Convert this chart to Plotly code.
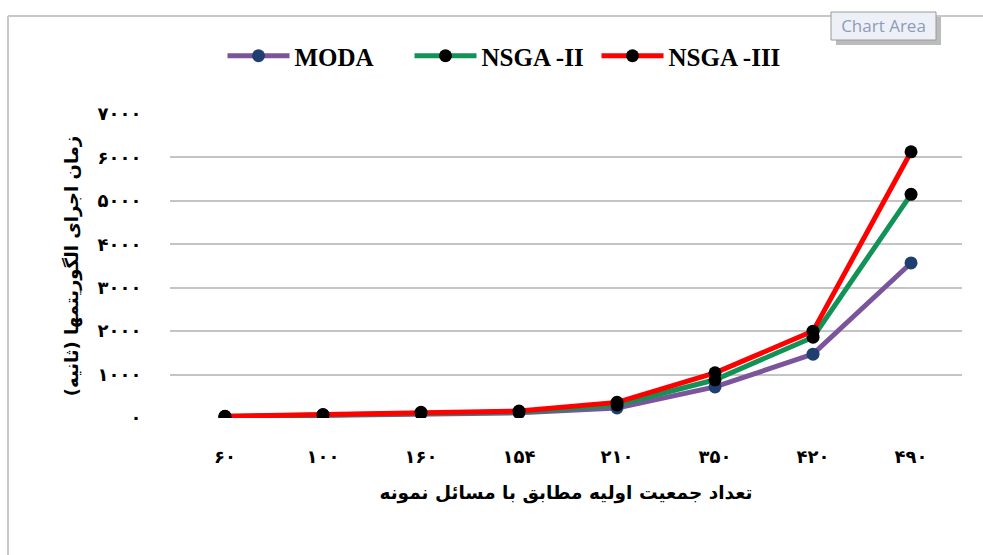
import plotly.graph_objects as go

categories = ["۶۰", "۱۰۰", "۱۶۰", "۱۵۴", "۲۱۰", "۳۵۰", "۴۲۰", "۴۹۰"]
moda = [30, 60, 100, 120, 230, 715, 1470, 3570]
nsga2 = [35, 70, 115, 140, 300, 880, 1860, 5150]
nsga3 = [40, 80, 130, 160, 360, 1040, 2000, 6130]
y_ticks = [0, 1000, 2000, 3000, 4000, 5000, 6000, 7000]
y_ticktext = ["۰", "۱۰۰۰", "۲۰۰۰", "۳۰۰۰", "۴۰۰۰", "۵۰۰۰", "۶۰۰۰", "۷۰۰۰"]

x = list(range(len(categories)))

W, H = 983, 555
L, R, T, B = 170, 21, 114, 137
pw, ph = W - L - R, H - T - B

def px(xp):
    return (xp - L) / pw

def py(yp):
    return (H - B - yp) / ph

fig = go.Figure()
series = [
    ("MODA", moda, "#7b559c", "#1f3f6e"),
    ("NSGA -II", nsga2, "#119256", "#000000"),
    ("NSGA -III", nsga3, "#ff0000", "#000000"),
]
for name, vals, lc, mc in series:
    fig.add_trace(go.Scatter(
        x=x, y=vals, name=name, mode="lines+markers",
        line=dict(color=lc, width=5),
        marker=dict(color=mc, size=13, line=dict(color=mc, width=0)),
    ))

arfont = "DejaVu Sans"
fig.update_layout(
    width=W, height=H,
    margin=dict(l=L, r=R, t=T, b=B),
    paper_bgcolor="white", plot_bgcolor="white",
    showlegend=True,
    legend=dict(orientation="h", x=px(503), y=py(56), xanchor="center", yanchor="middle",
                font=dict(family="Liberation Serif", size=25, color="black", weight="bold"),
                itemwidth=62, tracegroupgap=0, entrywidth=110, entrywidthmode="pixels"),
    xaxis=dict(
        range=[-0.561, 7.52], tickmode="array", tickvals=x, ticktext=categories,
        showgrid=False, zeroline=False, showline=False,
        ticks="outside", ticklen=22, tickcolor="rgba(0,0,0,0)",
        tickfont=dict(family=arfont, size=18, color="black", weight="bold"),
        title=dict(text="تعداد جمعیت اولیه مطابق با مسائل نمونه",
                   font=dict(family=arfont, size=18.5, color="black", weight="bold"),
                   standoff=20),
    ),
    yaxis=dict(
        range=[0, 7000], tickmode="array", tickvals=y_ticks, ticktext=y_ticktext,
        showgrid=True, gridcolor="#c4c4c4", gridwidth=1.5, zeroline=False, showline=False,
        ticks="outside", ticklen=24, tickcolor="rgba(0,0,0,0)",
        tickfont=dict(family=arfont, size=18, color="black", weight="bold"),
        title=dict(text="زمان اجرای الگوریتمها (ثانیه)",
                   font=dict(family=arfont, size=18, color="black", weight="bold"),
                   standoff=14),
    ),
)

# chart area border (left and top edges)
fig.add_shape(type="line", xref="paper", yref="paper", x0=px(8), x1=px(8), y0=py(16), y1=py(560),
              line=dict(color="#c8c8c8", width=2), layer="below")
fig.add_shape(type="line", xref="paper", yref="paper", x0=px(8), x1=px(990), y0=py(16), y1=py(16),
              line=dict(color="#c8c8c8", width=2), layer="below")
# tooltip
fig.add_shape(type="rect", xref="paper", yref="paper", x0=px(836), x1=px(941), y0=py(17), y1=py(45),
              line=dict(width=0), fillcolor="rgba(120,120,120,0.5)")
fig.add_shape(type="rect", xref="paper", yref="paper", x0=px(831), x1=px(936), y0=py(12), y1=py(40),
              line=dict(color="#9a9a9a", width=1), fillcolor="#eef0f8",
              label=dict(text="Chart Area", textposition="middle center",
                         font=dict(family="Open Sans", size=17, color="#8e9bb8")))

fig.write_html("out.html", config={"displayModeBar": False},
               post_script="document.body.style.margin='0';document.body.style.overflow='hidden';")
